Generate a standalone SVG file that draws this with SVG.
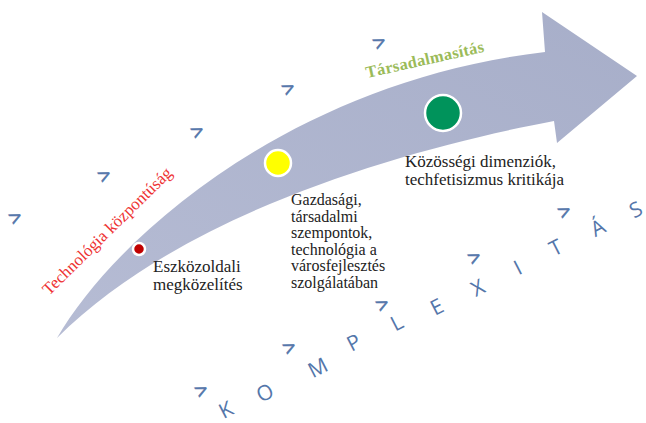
<svg xmlns="http://www.w3.org/2000/svg" width="646" height="423" viewBox="0 0 646 423">
<defs>
<linearGradient id="arrowGrad" x1="0" y1="1" x2="1" y2="0">
<stop offset="0" stop-color="#b6bcd4"/>
<stop offset="1" stop-color="#a7aec9"/>
</linearGradient>
<style>
.lbl{font-family:"Liberation Serif","Times New Roman",serif;fill:#222}
.kx{font-family:"Open Sans","DejaVu Sans",sans-serif;font-size:21px;fill:#5476aa;text-anchor:middle}
.chev{font-family:"Open Sans","DejaVu Sans",sans-serif;font-size:22px;fill:#5476aa;stroke:#5476aa;stroke-width:0.5;text-anchor:middle}
.dot{stroke:#ffffff;stroke-width:2.5}
</style>
</defs>
<rect width="646" height="423" fill="#ffffff"/>

<g id="arrow">
<path d="M57,338 C120,230 300,80 545,52 L542,12 L637,76 L557,143 L554,121 C400,150 180,215 57,338 Z" fill="url(#arrowGrad)"/>
</g>

<g id="connectors"></g>

<g id="chevrons">
<text class="chev" transform="translate(16,218) rotate(-27)" y="7">&gt;</text>
<text class="chev" transform="translate(105,176) rotate(-27)" y="7">&gt;</text>
<text class="chev" transform="translate(198,132) rotate(-27)" y="7">&gt;</text>
<text class="chev" transform="translate(289,89) rotate(-27)" y="7">&gt;</text>
<text class="chev" transform="translate(380,43) rotate(-27)" y="7">&gt;</text>
<text class="chev" transform="translate(202,391) rotate(-27)" y="7">&gt;</text>
<text class="chev" transform="translate(290,348) rotate(-27)" y="7">&gt;</text>
<text class="chev" transform="translate(383,305) rotate(-27)" y="7">&gt;</text>
<text class="chev" transform="translate(475,258) rotate(-27)" y="7">&gt;</text>
<text class="chev" transform="translate(565,212) rotate(-27)" y="7">&gt;</text>
</g>

<g id="komplexitas">
<text class="kx" transform="translate(226,410) rotate(-27)" y="7">K</text>
<text class="kx" transform="translate(265,393) rotate(-27)" y="7">O</text>
<text class="kx" transform="translate(318,368) rotate(-27)" y="7">M</text>
<text class="kx" transform="translate(354,343) rotate(-27)" y="7">P</text>
<text class="kx" transform="translate(397,323) rotate(-27)" y="7">L</text>
<text class="kx" transform="translate(437,307) rotate(-27)" y="7">E</text>
<text class="kx" transform="translate(478,288) rotate(-27)" y="7">X</text>
<text class="kx" transform="translate(518,268) rotate(-27)" y="7">I</text>
<text class="kx" transform="translate(556,248) rotate(-27)" y="7">T</text>
<text class="kx" transform="translate(598,228) rotate(-27)" y="7">Á</text>
<text class="kx" transform="translate(636,210) rotate(-27)" y="7">S</text>
</g>

<g id="node-technologia">
<text transform="translate(49,296) rotate(-44.5)" font-family="Liberation Serif,'Times New Roman',serif" font-size="17" fill="#ee3333">Technológia központúság</text>
</g>

<g id="node-tarsadalmasitas">
<text transform="translate(367,78) rotate(-12.6)" font-family="Liberation Serif,'Times New Roman',serif" font-size="16.5" font-weight="bold" letter-spacing="0.3" fill="#9bbb59">Társadalmasítás</text>
</g>

<g id="node-1">
<circle class="dot" cx="139" cy="249" r="6" fill="#c00000"/>
<text class="lbl" font-size="17" x="153" y="272">Eszközoldali</text>
<text class="lbl" font-size="17" x="153" y="290">megközelítés</text>
</g>

<g id="node-2">
<circle class="dot" cx="278" cy="163" r="13" fill="#ffff00"/>
<text class="lbl" font-size="16" x="291" y="205">Gazdasági,</text>
<text class="lbl" font-size="16" x="291" y="221.5">társadalmi</text>
<text class="lbl" font-size="16" x="291" y="238">szempontok,</text>
<text class="lbl" font-size="16" x="291" y="254.5">technológia a</text>
<text class="lbl" font-size="16" x="291" y="271">városfejlesztés</text>
<text class="lbl" font-size="16" x="291" y="287.5">szolgálatában</text>
</g>

<g id="node-3">
<circle class="dot" cx="443" cy="113" r="18" fill="#00935b"/>
<text class="lbl" font-size="17" x="405" y="167">Közösségi dimenziók,</text>
<text class="lbl" font-size="17" x="405" y="185">techfetisizmus kritikája</text>
</g>
</svg>
